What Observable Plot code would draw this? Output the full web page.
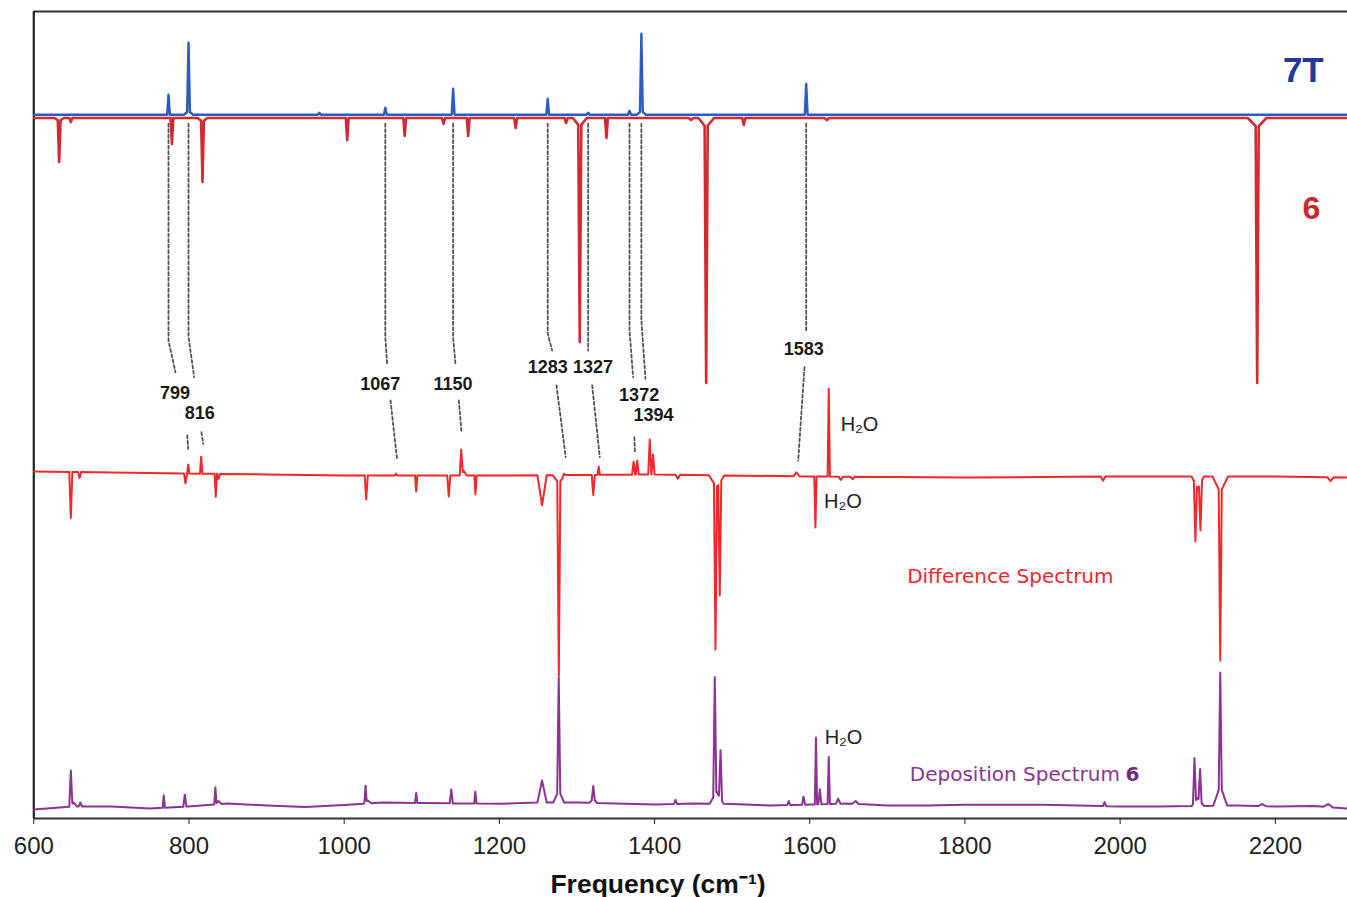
<!DOCTYPE html>
<html>
<head>
<meta charset="utf-8">
<script src="https://cdn.jsdelivr.net/npm/d3@7"></script>
<script src="https://cdn.jsdelivr.net/npm/@observablehq/plot@0.6"></script>
<style>
  html, body { margin: 0; padding: 0; background: #fff; }
</style>
</head>
<body>
<div id="chart"></div>
<script>
// ---------- DATA (wavenumber in cm-1, intensity in arbitrary offset units) ----------
const xTicks = [600, 800, 1000, 1200, 1400, 1600, 1800, 2000, 2200];

// Calculated spectrum 7T (blue): baseline and peaks [position, height, half-width]
const base7T = [[600, 87.2], [2293, 87.2]];
const peaks7T = [
  [773.6, 2.48, 1.8], [799.4, 8.42, 1.8], [799.4, 0.5, 6], [968, 0.25, 2], [1053, 0.87, 1.8],
  [1140.4, 3.22, 1.8], [1262.3, 1.98, 1.8], [1314.4, 0.25, 2], [1367.7, 0.5, 2],
  [1383, 9.54, 1.8], [1383, 0.5, 6], [1595.4, 3.84, 1.8]
];

// Calculated spectrum 6 (red, inverted)
const base6 = [[600, 86.8], [2293, 86.8]];
const peaks6 = [
  [632.7, -5.05, 1.8], [632.7, -0.4, 6], [647.7, -0.5, 2], [778, -3.22, 1.8], [817.4, -7.43, 1.8], [817.4, -0.5, 6],
  [1003.9, -2.73, 1.8], [1078, -2.23, 1.8], [1128, -0.74, 2], [1159.8, -2.23, 1.8],
  [1221, -1.24, 2], [1286, -0.62, 2], [1303.6, -26.66, 2], [1303.6, -1.1, 9],
  [1338, -2.48, 1.8], [1447, -0.25, 3], [1466.5, -31.64, 2], [1466.5, -1.2, 10],
  [1515, -0.87, 2], [1622, -0.25, 3], [2176.6, -31.64, 2], [2176.6, -1.2, 12]
];

// Difference spectrum (red)
const baseDiff = [
  [600, 43.0], [700, 42.88], [800, 42.75], [900, 42.63], [1000, 42.5], [1200, 42.5],
  [1400, 42.63], [1600, 42.38], [1800, 42.26], [2000, 42.38], [2200, 42.38], [2293, 42.26]
];
const peaksDiff = [
  [647.7, -5.7, 2], [659, -0.74, 2], [795.5, -1.24, 2], [799, 1.12, 1.5], [815.7, 2.11, 1.5],
  [834.5, -2.85, 1.5], [838, -0.62, 2], [1028.4, -2.97, 2], [1067, 0.25, 2], [1092.8, -1.98, 1.5],
  [1134.8, -2.6, 2], [1150.8, 3.1, 2], [1154, 0.6, 4], [1169.2, -2.35, 1.5], [1255, -3.72, 6],
  [1276.6, -23.9, 2], [1276.6, -1.0, 8], [1283, 0.37, 2], [1321, -2.48, 2], [1328, 0.99, 1.5],
  [1373, 1.61, 2], [1377.6, 1.73, 2], [1393.8, 4.34, 2], [1398, 2.48, 2], [1430, -0.5, 3],
  [1478.5, -20.3, 2], [1484, -14.0, 2], [1480, -1.5, 10], [1582.8, 0.5, 4], [1607.3, -6.32, 1.5],
  [1624.5, 10.9, 1.5], [1640, -0.4, 3], [1655, -0.3, 3], [1978, -0.5, 3], [2097, -7.1, 2],
  [2103.5, -5.85, 2], [2100, -1.5, 8], [2129, -20.8, 2], [2129, -2.0, 10], [2271, -0.5, 4]
];

// Deposition spectrum 6 (purple)
const baseDep = [
  [600, 1.12], [650, 1.49], [700, 1.49], [750, 1.24], [800, 1.49], [850, 1.86], [900, 1.61],
  [950, 1.43], [1000, 1.67], [1050, 1.98], [1100, 1.92], [1150, 1.86], [1200, 1.82], [1250, 1.98],
  [1300, 1.98], [1350, 1.86], [1400, 1.73], [1450, 1.86], [1500, 1.8], [1550, 1.61], [1600, 1.73],
  [1650, 1.86], [1700, 1.61], [1750, 1.61], [1800, 1.7], [1900, 1.7], [2000, 1.49], [2050, 1.49],
  [2150, 1.61], [2200, 1.49], [2250, 1.55], [2293, 1.24]
];
const peaksDep = [
  [647.7, 4.29, 2], [651, 0.5, 5], [660, 0.5, 2], [767.5, 1.55, 1.5], [794.6, 1.49, 2],
  [834, 2.11, 1.5], [838, 0.4, 4], [1027.5, 2.03, 1.5], [1030, 0.4, 5], [1092.8, 1.24, 1.5],
  [1138, 1.73, 2], [1169, 1.49, 1.5], [1255, 2.73, 6], [1276.5, 14.0, 2], [1276.5, 1.5, 7],
  [1321, 1.61, 2], [1321, 0.5, 5], [1427, 0.5, 2], [1477.6, 14.6, 2], [1485, 5.96, 2],
  [1480, 1.5, 9], [1573, 0.5, 2], [1592, 1.0, 2], [1608, 8.3, 1.5], [1613, 1.86, 2],
  [1624.5, 5.82, 1.5], [1636.6, 0.62, 3], [1659, 0.37, 4], [1979.9, 0.5, 2], [2095.8, 5.47, 2],
  [2103, 3.95, 2], [2100, 1.0, 8], [2129, 14.0, 2], [2129, 2.5, 9], [2183, 0.25, 5], [2268, 0.37, 6]
];

// Assignment labels (experimental frequencies) and their connector paths
const assignLabels = ["799", "816", "1067", "1150", "1283", "1327", "1372", "1394", "1583"];
const labelX = [782.0, 813.8, 1046.4, 1140.2, 1262.2, 1320.6, 1380.1, 1398.6, 1592.3];
const labelY = [52.7, 50.22, 53.87, 53.87, 55.92, 55.92, 52.42, 49.94, 58.2];
const upperPaths = [
  [[773.6, 86.1], [773.6, 59.2], [782.6, 55.3]],
  [[799.4, 86.1], [799.4, 59.64], [806.7, 54.68]],
  [[1053, 86.1], [1053, 59.64], [1055.4, 56.34]],
  [[1140.4, 86.1], [1140.4, 59.64], [1143.4, 56.34]],
  [[1262.3, 86.1], [1262.3, 60.1], [1268.0, 58.0]],
  [[1314.4, 86.1], [1314.4, 60.1], [1314.4, 58.0]],
  [[1367.7, 86.1], [1367.7, 60.5], [1372.4, 54.68]],
  [[1383, 86.1], [1383, 61.7], [1388.3, 54.49]],
  [[1595.4, 86.1], [1595.4, 60.5]]
];
const lowerPaths = [
  [[797.7, 47.46], [799, 45.8]],
  [[816.1, 47.87], [818.3, 46.43]],
  [[1059.7, 51.8], [1068.3, 44.36]],
  [[1147.7, 51.8], [1151.2, 47.87]],
  [[1273.6, 53.66], [1285.5, 44.77]],
  [[1319.6, 53.66], [1329.4, 44.77]],
  [[1374, 47.25], [1374.7, 45.39]],
  [],
  [[1593.2, 55.92], [1585.1, 44.36]]
];

// Water band labels
const waterX = [1639.8, 1618.3, 1619.2];
const waterY = [48.82, 39.32, 10.0];

// ---------- BUILD ----------
function baseAt(base, x) {
  for (let i = 0; i < base.length - 1; i++) {
    const [x0, y0] = base[i], [x1, y1] = base[i + 1];
    if (x >= x0 && x <= x1) return y0 + (y1 - y0) * (x - x0) / (x1 - x0);
  }
  return base[base.length - 1][1];
}
function spectrum(base, peaks, name) {
  const xs = new Set(base.map(d => d[0]));
  for (const [w, , hw] of peaks) { xs.add(w - hw); xs.add(w); xs.add(w + hw); }
  return [...xs].filter(x => x >= 600 && x <= 2293).sort((a, b) => a - b).map(x => ({
    name, x,
    y: baseAt(base, x) + peaks.reduce((s, [w, h, hw]) => s + Math.max(0, 1 - Math.abs(x - w) / hw) * h, 0)
  }));
}
const s7T = spectrum(base7T, peaks7T, "7T");
const s6 = spectrum(base6, peaks6, "6");
const sDiff = spectrum(baseDiff, peaksDiff, "diff");
const sDep = spectrum(baseDep, peaksDep, "dep");

const links = [];
upperPaths.forEach((p, i) => p.forEach(([x, y]) => links.push({id: "u" + i, x, y})));
lowerPaths.forEach((p, i) => p.forEach(([x, y]) => links.push({id: "l" + i, x, y})));
const labels = assignLabels.map((t, i) => ({t, x: labelX[i], y: labelY[i]}));
const water = waterX.map((x, i) => ({x, y: waterY[i]}));

const chart = Plot.plot({
  width: 1347,
  height: 897,
  marginLeft: 33.3,
  marginRight: 0,
  marginTop: 11,
  marginBottom: 79,
  x: {domain: [600, 2293]},
  y: {domain: [0, 100], axis: null},
  style: {fontFamily: "'Liberation Sans', Arial, sans-serif", background: "#fff", overflow: "visible"},
  marks: [
    Plot.ruleY([100], {stroke: "#333", strokeWidth: 2}),
    Plot.ruleX([600], {stroke: "#222", strokeWidth: 2.2}),
    Plot.line(links, {x: "x", y: "y", z: "id", stroke: "#4a5558", strokeWidth: 1.8, strokeDasharray: "3,2.5"}),
    Plot.line(sDep, {x: "x", y: "y", stroke: "#8b3394", strokeWidth: 2, clip: true}),
    Plot.line(sDiff, {x: "x", y: "y", stroke: "#f0282a", strokeWidth: 2, clip: true}),
    Plot.line(s6, {x: "x", y: "y", stroke: "#d42a2f", strokeWidth: 2.6, clip: true}),
    Plot.line(s7T, {x: "x", y: "y", stroke: "#2b5cc4", strokeWidth: 2.4, clip: true}),
    Plot.ruleY([0], {stroke: "#333", strokeWidth: 2}),
    Plot.axisX({ticks: xTicks, tickSize: 6, tickPadding: 12, fontSize: 24, stroke: "#222", fill: "#222", label: null, tickFormat: d => String(d)}),
    Plot.text(["Frequency (cm⁻¹)"], {x: 1404.4, y: 0, dy: 66, fontSize: 26.5, fontWeight: "bold", fill: "#111"}),
    Plot.text(labels, {x: "x", y: "y", text: "t", fontSize: 18, fontWeight: "bold", fill: "#1a1a1a"}),
    Plot.text(water, {x: "x", y: "y", text: () => "H₂O", textAnchor: "start", fontSize: 20, fill: "#222"}),
    Plot.text(["7T"], {x: 2262.4, y: 92.7, textAnchor: "end", fontSize: 35, fontWeight: "bold", fill: "#1e3a96"}),
    Plot.text(["6"], {x: 2246.5, y: 75.55, fontSize: 32, fontWeight: "bold", fill: "#c62a2f"}),
    Plot.text(["Difference Spectrum"], {x: 1725.5, y: 29.99, textAnchor: "start", fontSize: 20, fontFamily: "'DejaVu Sans', sans-serif", fill: "#f0282a"}),
    Plot.text(["Deposition Spectrum"], {x: 1728.9, y: 5.45, textAnchor: "start", fontSize: 20, fontFamily: "'DejaVu Sans', sans-serif", fill: "#8b3394"}),
    Plot.text(["6"], {x: 2007, y: 5.45, textAnchor: "start", fontSize: 20, fontWeight: "bold", fontFamily: "'DejaVu Sans', sans-serif", fill: "#6f2a80"})
  ]
});
document.getElementById("chart").appendChild(chart);
</script>
</body>
</html>
